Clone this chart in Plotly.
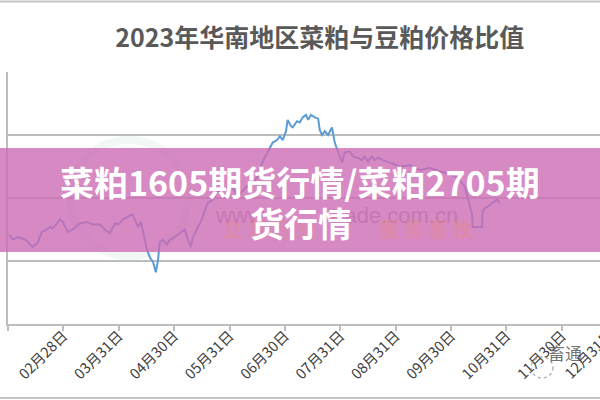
import plotly.graph_objects as go

# x position in months after 01月31日 (0 = 01月31日, 1 = 02月28日, ...)
month_pos = [0.02, 0.09, 0.18, 0.31, 0.45, 0.54, 0.61, 0.70, 0.76, 0.81, 0.94, 0.99,
             1.08, 1.17, 1.30, 1.43, 1.53, 1.66, 1.75, 1.84, 1.93, 1.99,
             2.08, 2.17, 2.24, 2.29, 2.35, 2.40, 2.44, 2.51, 2.56, 2.62, 2.67, 2.71, 2.74, 2.80, 2.87, 2.92, 2.98,
             3.07, 3.14, 3.19, 3.25, 3.30, 3.34, 3.43, 3.50, 3.56, 3.61, 3.70, 3.77, 3.86, 3.95,
             4.06, 4.15, 4.22, 4.31, 4.42, 4.51, 4.60, 4.69, 4.78, 4.86, 4.91, 4.96,
             5.02, 5.05, 5.11, 5.14, 5.22, 5.27, 5.32, 5.38, 5.42, 5.47, 5.54, 5.60, 5.63, 5.67, 5.72, 5.78, 5.85, 5.90, 5.96,
             6.03, 6.08, 6.17, 6.23, 6.32, 6.39, 6.44, 6.50, 6.57, 6.62, 6.68, 6.77, 6.90,
             7.08, 7.26, 7.44, 7.62, 7.80, 7.98,
             8.12, 8.25, 8.30, 8.34, 8.38, 8.39, 8.48, 8.56, 8.57, 8.61, 8.66, 8.74, 8.79, 8.83, 8.88]
ratio = [0.671, 0.667, 0.669, 0.667, 0.661, 0.665, 0.673, 0.675, 0.677, 0.676, 0.683, 0.681,
         0.673, 0.675, 0.680, 0.681, 0.679, 0.679, 0.675, 0.672, 0.680, 0.679,
         0.683, 0.685, 0.687, 0.683, 0.677, 0.681, 0.672, 0.659, 0.653, 0.649, 0.641, 0.651, 0.665, 0.667, 0.663, 0.667, 0.668,
         0.671, 0.673, 0.675, 0.667, 0.661, 0.669, 0.677, 0.683, 0.691, 0.696, 0.699, 0.704, 0.707, 0.708,
         0.708, 0.701, 0.705, 0.709, 0.712, 0.717, 0.729, 0.736, 0.744, 0.746, 0.749, 0.746,
         0.753, 0.762, 0.757, 0.756, 0.761, 0.760, 0.764, 0.766, 0.762, 0.766, 0.764, 0.763, 0.754, 0.750, 0.753, 0.750, 0.756, 0.744, 0.736,
         0.728, 0.736, 0.737, 0.733, 0.732, 0.730, 0.733, 0.729, 0.733, 0.730, 0.732, 0.730, 0.728,
         0.725, 0.726, 0.722, 0.724, 0.721, 0.719,
         0.716, 0.709, 0.701, 0.695, 0.687, 0.677, 0.677, 0.677, 0.689, 0.692, 0.693, 0.696, 0.697, 0.699, 0.696]

tick_labels = ["01月31日", "02月28日", "03月31日", "04月30日", "05月31日", "06月30日",
               "07月31日", "08月31日", "09月30日", "10月31日", "11月30日", "12月31日"]

title_text = "2023年华南地区菜粕与豆粕价格比值"
banner_line1 = "菜粕1605期货行情/菜粕2705期"
banner_line2 = "货行情"

CJK = "Noto Sans CJK SC"
GRID = "#bdbdbd"
TICKFONT = dict(family=CJK, size=14.5, color="#404040")

fig = go.Figure()
fig.add_trace(go.Scatter(x=month_pos, y=ratio, mode="lines",
                         line=dict(color="#5B9BD5", width=2), hoverinfo="skip",
                         showlegend=False))

XMAX = 10.69
fig.update_layout(
    width=600, height=400,
    margin=dict(l=8, r=0, t=72, b=76),
    paper_bgcolor="white", plot_bgcolor="white",
    font=dict(family=CJK, color="#595959"),
    title=dict(text=title_text, x=0.533, xref="container", xanchor="center",
               y=1 - 38 / 400, yref="container", yanchor="middle",
               font=dict(family=CJK, size=25, color="#595959", weight="bold")),
    xaxis=dict(range=[0, XMAX], tickmode="array", tickvals=list(range(len(tick_labels))),
               ticktext=tick_labels, tickangle=-45, ticks="outside", ticklen=5,
               tickcolor=GRID, tickwidth=1.5, showline=True, linecolor=GRID, linewidth=1.5,
               showgrid=False, zeroline=False, automargin=False, tickfont=TICKFONT,
               ticklabelstandoff=-9),
    yaxis=dict(range=[0.6, 0.8], dtick=0.05, tick0=0.6, showticklabels=False,
               showgrid=True, gridcolor=GRID, gridwidth=1.5, showline=True,
               linecolor=GRID, linewidth=1.5, zeroline=False, automargin=False, ticks=""),
)

W, H = 592.0, 252.0  # plot area size in px
def px(x):
    return (x - 8) / W
def py(y):
    return (324 - y) / H

shapes = [
    dict(type="line", xref="paper", yref="paper", x0=px(0), x1=px(600), y0=py(1.5), y1=py(1.5),
         line=dict(color="#c4c4c4", width=2), layer="above"),
    dict(type="line", xref="paper", yref="paper", x0=px(0), x1=px(600), y0=py(398), y1=py(398),
         line=dict(color="#c4c4c4", width=2), layer="above"),
    dict(type="circle", xref="paper", yref="paper", x0=px(70), x1=px(188), y0=py(256), y1=py(140),
         line=dict(color="rgba(140,190,170,0.12)", width=8), layer="below"),
    dict(type="rect", xref="paper", yref="paper", x0=px(0), x1=px(600), y0=py(252), y1=py(148),
         fillcolor="rgba(205,108,180,0.80)", line=dict(width=0), layer="above"),
    dict(type="circle", xref="paper", yref="paper", x0=px(531), x1=px(553), y0=py(378), y1=py(357),
         line=dict(color="rgba(150,150,150,0.7)", width=1.5, dash="dot"), layer="above"),
]
fig.update_layout(shapes=shapes)

annotations = [
    dict(text="www.", x=px(242), y=py(215), xref="paper", yref="paper", showarrow=False,
         font=dict(family="Liberation Sans", size=22, color="rgba(150,70,130,0.28)")),
    dict(text="trade.com.cn", x=px(460), y=py(215), xref="paper", yref="paper", showarrow=False,
         font=dict(family="Liberation Sans", size=22, color="rgba(150,70,130,0.28)")),
    dict(text="立 足 行 业", x=px(270), y=py(245), xref="paper", yref="paper", showarrow=False,
         font=dict(family=CJK, size=20, color="rgba(240,140,70,0.22)", weight="bold")),
    dict(text="服 务 畜 牧", x=px(475), y=py(245), xref="paper", yref="paper", showarrow=False,
         font=dict(family=CJK, size=20, color="rgba(240,140,70,0.22)", weight="bold")),
    dict(text=banner_line1, x=px(300), y=py(181), xref="paper", yref="paper", showarrow=False,
         font=dict(family=CJK, size=34, color="white", weight="bold")),
    dict(text=banner_line2, x=px(301), y=py(222), xref="paper", yref="paper", showarrow=False,
         font=dict(family=CJK, size=34, color="white", weight="bold")),
    dict(text="畜通", x=px(584), y=py(367), xref="paper", yref="paper", showarrow=False,
         font=dict(family=CJK, size=17, color="rgba(90,90,90,0.85)")),
    # last month label, cut by the right edge as in the source image
    dict(text=tick_labels[11], x=px(8 + 11 * W / XMAX + 3), y=py(322), xref="paper", yref="paper",
         showarrow=False, textangle=-45, xanchor="right", yanchor="top", font=TICKFONT),
]
fig.update_layout(annotations=annotations)

fig.write_html("out.html", config={"displayModeBar": False},
               post_script="document.body.style.margin='0';document.body.style.overflow='hidden';")
